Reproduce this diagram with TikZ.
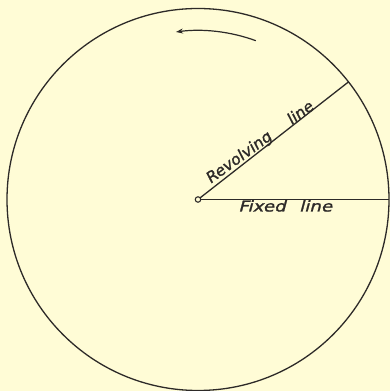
\documentclass[tikz,border=0pt]{standalone}
\usepackage{fontspec}
\setmainfont{DejaVu Sans}
\newfontfamily\handfont[FakeBold=1.2, FakeSlant=0.22]{DejaVu Sans}
\usetikzlibrary{arrows.meta,calc}
\definecolor{paper}{RGB}{255,252,214}
\definecolor{ink}{RGB}{45,42,40}
\tikzset{
  ink/.style={draw=ink, line width=1.3pt},
  hand/.style={font=\handfont\fontsize{15}{15}\selectfont, text=ink, inner sep=0pt},
}
\begin{document}
\begin{tikzpicture}[x=1pt,y=1pt]
\fill[paper] (0,0) rectangle (390,391);
\useasboundingbox (0,0) rectangle (390,391);
\coordinate (O) at (198,191.5);
\draw[ink] (O) circle (191);
\coordinate (R) at ($(O)+(38:191)$);
\coordinate (F) at ($(O)+(0:191)$);
\draw[ink] (O) -- (R);
\draw[ink] (O) -- (F);
\draw[ink, line width=1.2pt, -{Stealth[length=7pt,width=5pt]}] ($(O)+(70:169)$) arc (70:97.5:169);
\node[ink, fill=paper, circle, inner sep=0pt, minimum size=5.5pt, line width=1.1pt] (c) at (O) {};
\node[hand, xscale=1.08, rotate=38, anchor=base west] (rev) at ($(O)+(38:19)+(128:4.5)$) {Revolving\hspace{22pt}line};
\node[hand, xscale=1.22, anchor=base west] (fix) at ($(O)+(40,-12)$) {Fixed\hspace{11pt}line};
\end{tikzpicture}
\end{document}
